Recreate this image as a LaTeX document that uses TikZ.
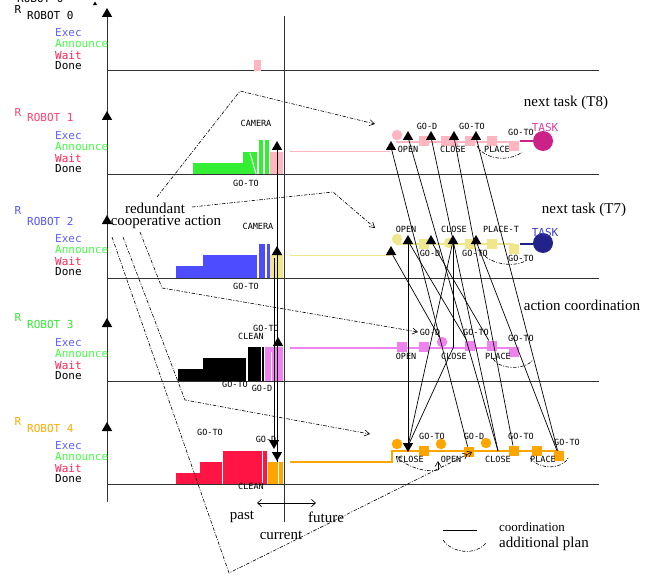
\documentclass[tikz,border=0pt]{standalone}
\usepackage{fontspec}
\setmainfont{Liberation Serif}
\newfontfamily\pixfont{DejaVu Sans Mono}
\usetikzlibrary{arrows.meta,shapes.geometric}
\definecolor{cExec}{RGB}{96,96,255}
\definecolor{cAnn}{RGB}{64,255,64}
\definecolor{cWait}{RGB}{255,32,80}
\definecolor{cR1}{RGB}{255,64,110}
\definecolor{cR2}{RGB}{85,85,255}
\definecolor{cR3}{RGB}{50,235,50}
\definecolor{cR4}{RGB}{255,170,0}
\definecolor{barGreen}{RGB}{51,238,51}
\definecolor{barPink}{RGB}{255,182,193}
\definecolor{barBlue}{RGB}{77,77,255}
\definecolor{barKhaki}{RGB}{240,230,140}
\definecolor{barViolet}{RGB}{238,130,238}
\definecolor{barRed}{RGB}{255,20,68}
\definecolor{barOrange}{RGB}{255,165,0}
\definecolor{taskMag}{RGB}{204,34,136}
\definecolor{taskMagTxt}{RGB}{225,60,160}
\definecolor{taskNavy}{RGB}{34,34,139}
\definecolor{taskBlueTxt}{RGB}{60,60,200}
\definecolor{gridgray}{RGB}{50,50,50}
\tikzset{
 big/.style={font=\pixfont\fontsize{11}{12}\selectfont, inner sep=0pt, anchor=west},
 bigc/.style={font=\pixfont\fontsize{11}{12}\selectfont, inner sep=0pt},
 sm/.style={font=\pixfont\fontsize{8.5}{9}\selectfont, inner sep=0pt},
 ser/.style={font=\fontsize{15}{16}\selectfont, inner sep=0pt},
 tri/.style={regular polygon, regular polygon sides=3, fill=black, inner sep=0pt, minimum size=12pt},
 dtri/.style={tri, shape border rotate=180},
 sq/.style={rectangle, inner sep=0pt, minimum size=10.5pt},
 dot/.style={circle, inner sep=0pt, minimum size=10.5pt},
 coordln/.style={draw=black, line width=0.7pt},
 dd/.style={line width=0.6pt, dash pattern=on 3.5pt off 1.5pt on 1pt off 1.5pt},
 barb/.style={-{Straight Barb[length=5pt,width=6pt]}},
 baseln/.style={line width=1pt, draw=gridgray},
}
\begin{document}
\begin{tikzpicture}[x=1pt,y=-1pt]
\useasboundingbox (0,0) rectangle (665,578);

% clipped duplicate label at the very top
\begin{scope}
\clip (0,0) rectangle (665,578);
\node[big] (rob0top) at (17,-2) {ROBOT 0};
\end{scope}
\node[regular polygon, regular polygon sides=3, fill=black, inner sep=0pt, minimum size=5pt] (tinytri) at (95,4) {};

% axes and baselines
\draw[baseln] (107,10) -- (107,502);
\draw[line width=0.9pt, gridgray] (284,16) -- (284,522);
\foreach \y in {71,174,278,381,484} \draw[baseln] (107,\y) -- (599,\y);
\foreach \y [count=\i] in {14,117,221,324,428} \node[tri] (ax\i) at (107,\y) {};

% robot labels
\node[bigc] (rr0) at (18,9) {R};
\node[bigc,text=cR1] (rr1) at (18,112) {R};
\node[bigc,text=cR2] (rr2) at (18,210) {R};
\node[bigc,text=cR3] (rr3) at (18,317) {R};
\node[bigc,text=cR4] (rr4) at (18,421) {R};
\node[big] (rob0) at (27,15) {ROBOT 0};
\node[big,text=cR1] (rob1) at (27,117) {ROBOT 1};
\node[big,text=cR2] (rob2) at (27,221) {ROBOT 2};
\node[big,text=cR3] (rob3) at (27,324) {ROBOT 3};
\node[big,text=cR4] (rob4) at (27,428) {ROBOT 4};
\foreach \y [count=\i] in {33,136,239,343,446} {
  \node[big,text=cExec] (ex\i) at (55,\y) {Exec};
  \node[big,text=cAnn] (an\i) at (55,\y+11) {Announce};
  \node[big,text=cWait] (wa\i) at (55,\y+22) {Wait};
  \node[big] (do\i) at (55,\y+33) {Done};
}

% ---- bars ROBOT 0
\fill[barPink] (254,60) rectangle (261,71);
% ---- bars ROBOT 1
\fill[barGreen] (193,163) rectangle (243,174);
\fill[barGreen] (243,152) rectangle (257,174);
\draw[white, line width=1pt] (250,153) -- (256,174);
\fill[barGreen] (259,140) rectangle (263,174);
\fill[barGreen] (265,140) rectangle (269,174);
\fill[barPink] (270,152) rectangle (283,174);
% ---- bars ROBOT 2
\fill[barBlue] (176,266) rectangle (203,278);
\fill[barBlue] (203,255) rectangle (257,278);
\fill[barBlue] (259,244) rectangle (265,278);
\fill[barBlue] (267,244) rectangle (270,278);
\fill[barKhaki] (270,255) rectangle (283,278);
% ---- bars ROBOT 3
\fill[black] (178,369) rectangle (203,381);
\fill[black] (203,358) rectangle (246,381);
\fill[black] (248,347) rectangle (261,381);
\fill[black] (262,347) rectangle (264,381);
\fill[barViolet] (265,347) rectangle (283,381);
\draw[white, line width=0.8pt] (271,352) -- (271,381);
% ---- bars ROBOT 4
\fill[barRed] (176,473) rectangle (200,484);
\fill[barRed] (200,462) rectangle (222,484);
\fill[barRed] (223,451) rectangle (262,484);
\fill[barRed] (263,451) rectangle (267,484);
\fill[barOrange] (268,462) rectangle (283,484);
\draw[white, line width=0.8pt] (278,462) -- (278,484);

% left small labels
\node[sm] (l1a) at (256,123) {CAMERA};
\node[sm] (l1b) at (246,183) {GO-TO};
\node[sm] (l2a) at (258,226) {CAMERA};
\node[sm] (l2b) at (246,286) {GO-TO};
\node[sm] (l3a) at (266,328) {GO-TO};
\node[sm] (l3b) at (251,336) {CLEAN};
\node[sm] (l3c) at (235,384) {GO-TO};
\node[sm] (l3d) at (262,388) {GO-D};
\node[sm] (l4a) at (210,432) {GO-TO};
\node[sm] (l4b) at (266,439) {GO-D};
\node[sm] (l4c) at (251,486) {CLEAN};

% current-time arrows
\coordinate (cbot) at (277,462);
\coordinate (ctop) at (274,258);
\node[tri] (ca1) at (277,147) {};
\node[tri] (ca2) at (277,252) {};
\node[tri] (ca3) at (278,343) {};
\node[dtri] (cd1) at (274,443) {};
\node[dtri] (cd2) at (277,455) {};
\draw[line width=0.8pt] (cbot) -- (ca1);
\draw[line width=0.8pt] (ctop) -- (cd1);

% ---- right rows: lines
\draw[barPink, line width=1pt] (290,152) -- (390,152);
\draw[barPink, line width=1.2pt] (396,142) -- (514,142);
\draw[taskMag, line width=1.2pt] (520,141) -- (535,141);
\draw[barKhaki, line width=1pt] (290,255) -- (390,255);
\draw[barKhaki, line width=1.2pt] (396,244) -- (514,244);
\draw[taskNavy, line width=1.2pt] (520,244) -- (535,244);
\draw[barViolet, line width=1.2pt] (290,348) -- (514,348);
\draw[barOrange, line width=1.2pt] (290,462) -- (392,462) -- (392,451) -- (559,451);

% ROBOT 1 row items
\node[dot, fill=barPink] (c1a) at (397,135) {};
\node[sq, fill=barPink] (s1a) at (424,141) {};
\node[sq, fill=barPink] (s1b) at (446,141) {};
\node[sq, fill=barPink] (s1c) at (453,141) {};
\node[sq, fill=barPink] (s1d) at (470,141) {};
\node[sq, fill=barPink] (s1e) at (492,141) {};
\node[sq, fill=barPink] (s1f) at (514,146) {};
\node[circle, fill=taskMag, inner sep=0pt, minimum size=20pt] (task1) at (543,141) {};
% ROBOT 2 row items
\node[dot, fill=barKhaki] (c2a) at (397,239) {};
\node[sq, fill=barKhaki] (s2a) at (424,244) {};
\node[dot, fill=barKhaki] (c2b) at (449,243) {};
\node[sq, fill=barKhaki] (s2b) at (470,244) {};
\node[sq, fill=barKhaki] (s2c) at (492,244) {};
\node[sq, fill=barKhaki] (s2d) at (514,249) {};
\node[circle, fill=taskNavy, inner sep=0pt, minimum size=20pt] (task2) at (543,243) {};
% ROBOT 3 row items
\node[sq, fill=barViolet] (s3a) at (402,347) {};
\node[sq, fill=barViolet] (s3b) at (424,347) {};
\node[dot, fill=barViolet] (c3) at (442,342) {};
\node[sq, fill=barViolet] (s3c) at (470,346) {};
\node[sq, fill=barViolet] (s3d) at (492,346) {};
\node[sq, fill=barViolet] (s3e) at (514,352) {};
\coordinate (r3close) at (453,348);
% ROBOT 4 row items
\node[dot, fill=barOrange] (c4a) at (397,444) {};
\node[sq, fill=barOrange] (s4a) at (424,451) {};
\node[dot, fill=barOrange] (c4b) at (441,444) {};
\node[sq, fill=barOrange] (s4b) at (469,452) {};
\node[dot, fill=barOrange] (c4c) at (486,443) {};
\node[sq, fill=barOrange] (s4c) at (514,451) {};
\node[sq, fill=barOrange] (s4d) at (537,451) {};
\node[sq, fill=barOrange] (s4e) at (559,456) {};
\coordinate (r4close) at (498,451);

% triangles of coordination
\node[tri] (t1a) at (391,147) {};
\node[tri] (t1b) at (408,137) {};
\node[tri] (t1c) at (431,137) {};
\node[tri] (t1d) at (454,137) {};
\node[tri] (t1e) at (476,137) {};
\node[tri] (t2a) at (391,252) {};
\node[tri] (t2b) at (408,241) {};
\node[tri] (t2c) at (431,241) {};
\node[tri] (t2d) at (453,241) {};
\node[tri] (t2e) at (476,241) {};
\node[dtri] (d4) at (408,446) {};

% coordination connectors
\draw[coordln] (t1a) -- (s4b);
\draw[coordln] (t1b) -- (r4close);
\draw[coordln] (t1c) -- (r4close);
\draw[coordln] (t1d) -- (s4c);
\draw[coordln] (t1e) -- (s4e);
\draw[coordln] (t2a) -- (c3);
\draw[coordln] (t2b) -- (d4);
\draw[coordln] (t2b) -- (s3c);
\draw[coordln] (t2c) -- (s3d);
\draw[coordln] (t2d) -- (r3close);
\draw[coordln] (t2d) -- (d4);
\draw[coordln] (r3close) -- (d4);
\draw[coordln] (t2e) -- (s4e);

% right small labels
\node[sm] (o1a) at (408,149) {OPEN};
\node[sm] (o1b) at (427,126) {GO-D};
\node[sm] (o1c) at (453,149) {CLOSE};
\node[sm] (o1d) at (472,126) {GO-TO};
\node[sm] (o1e) at (497,149) {PLACE};
\node[sm] (o1f) at (521,132) {GO-TO};
\node[bigc, text=taskMagTxt] (tk1) at (545,127) {TASK};
\node[sm] (o2a) at (406,229) {OPEN};
\node[sm] (o2b) at (454,229) {CLOSE};
\node[sm] (o2c) at (501,229) {PLACE-T};
\node[sm] (o2d) at (430,253) {GO-D};
\node[sm] (o2e) at (475,253) {GO-TO};
\node[sm] (o2f) at (521,258) {GO-TO};
\node[bigc, text=taskBlueTxt] (tk2) at (545,232) {TASK};
\node[sm] (o3a) at (430,332) {GO-D};
\node[sm] (o3b) at (406,356) {OPEN};
\node[sm] (o3c) at (454,356) {CLOSE};
\node[sm] (o3d) at (476,332) {GO-TO};
\node[sm] (o3e) at (498,356) {PLACE};
\node[sm] (o3f) at (521,338) {GO-TO};
\node[sm] (o4a) at (432,436) {GO-TO};
\node[sm] (o4b) at (474,436) {GO-D};
\node[sm] (o4c) at (521,436) {GO-TO};
\node[sm] (o4d) at (567,442) {GO-TO};
\node[sm] (o4e) at (411,459) {CLOSE};
\node[sm] (o4f) at (451,459) {OPEN};
\node[sm] (o4g) at (498,459) {CLOSE};
\node[sm] (o4h) at (543,459) {PLACE};

% additional-plan arcs
\draw[dd] (477,146) .. controls (485,160) and (510,162) .. (522,152);
\draw[dd] (480,251) .. controls (490,265) and (515,268) .. (527,260);
\draw[dd] (493,359) .. controls (500,370) and (525,370) .. (533,360);
\draw[dd] (530,458) .. controls (540,470) and (562,470) .. (569,457);
\coordinate (arcA) at (438,470);
\coordinate (arcB) at (396,456);
\coordinate (arcC) at (438,461);
\draw[dd, barb] (arcA) .. controls (425,473) and (405,466) .. (arcB);
\draw[line width=0.6pt, barb] (arcA) -- (arcC);

% redundant cooperative action callouts
\node[ser] (red) at (155,208) {redundant};
\node[ser] (coop) at (166,222) {cooperative action};
\coordinate (pA) at (240,91);
\coordinate (pB) at (157,197);
\coordinate (e1) at (375,124);
\draw[dd, barb] (pB) -- (pA) -- (e1);
\coordinate (qA) at (192,207);
\coordinate (qB) at (333,192);
\coordinate (e2) at (375,228);
\draw[dd, barb] (qA) -- (qB) -- (e2);
\coordinate (u1) at (112,237);
\coordinate (u1b) at (229,573);
\coordinate (e4) at (472,452);
\draw[dd, -{Straight Barb[length=4pt,width=6pt] Straight Barb[length=4pt,width=6pt]}] (u1) -- (u1b) -- (e4);
\coordinate (u2) at (123,237);
\coordinate (u2b) at (185,400);
\coordinate (e3) at (370,434);
\draw[dd, barb] (u2) -- (u2b) -- (e3);
\coordinate (u3) at (140,232);
\coordinate (u3b) at (162,288);
\coordinate (e5) at (418,332);
\draw[dd, barb] (u3) -- (u3b) -- (e5);

% serif annotations
\node[ser] (nt8) at (566,103) {next task (T8)};
\node[ser] (nt7) at (584,210) {next task (T7)};
\node[ser] (acoord) at (582,305) {action coordination};
\node[ser] (past) at (242,517) {past};
\node[ser] (curr) at (281,535) {current};
\node[ser] (fut) at (326,517) {future};
\coordinate (pl) at (257,503);
\coordinate (pr) at (316,503);
\draw[line width=0.7pt, {Straight Barb[length=4pt,width=7pt]}-{Straight Barb[length=4pt,width=7pt]}] (pl) -- (pr);

% legend
\coordinate (lg1) at (443,530);
\coordinate (lg2) at (477,530);
\draw[line width=0.8pt] (lg1) -- (lg2);
\coordinate (lg3) at (443,540);
\coordinate (lg4) at (486,543);
\draw[dd] (lg3) .. controls (452,553) and (475,556) .. (lg4);
\node[font=\fontsize{13}{14}\selectfont, inner sep=0pt, anchor=west] (lgt1) at (499,527) {coordination};
\node[ser, anchor=west] (lgt2) at (499,544) {additional plan};
\end{tikzpicture}
\end{document}
